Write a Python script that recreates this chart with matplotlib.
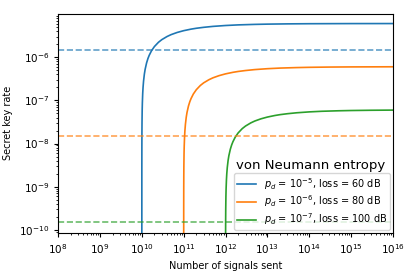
import matplotlib.pyplot as plt

# numero de senales enviadas, relativo al inicio de cada curva
ratios = [1.0, 1.001, 1.003, 1.006, 1.01, 1.02, 1.03, 1.05, 1.07, 1.1, 1.15, 1.2,
          1.3, 1.4, 1.5, 1.7, 2, 2.5, 3, 4, 5, 7, 10, 15, 20, 30, 50, 100, 200,
          500, 1000, 3000, 1e4, 1e5, 1e6]
inicios = [1e10, 1e11, 1e12]

tasa_azul = [1e-13, 3.0e-9, 9.0e-9, 1.8e-8, 2.98e-8, 5.94e-8, 8.8e-8, 1.45e-7,
             2.0e-7, 2.79e-7, 4.05e-7, 5.23e-7, 7.37e-7, 9.29e-7, 1.10e-6, 1.40e-6,
             1.76e-6, 2.21e-6, 2.54e-6, 3.0e-6, 3.32e-6, 3.73e-6, 4.10e-6, 4.45e-6,
             4.66e-6, 4.90e-6, 5.15e-6, 5.40e-6, 5.58e-6, 5.73e-6, 5.81e-6, 5.89e-6,
             5.94e-6, 5.98e-6, 5.99e-6]
tasa_naranja = [1e-14, 3.0e-10, 9.0e-10, 1.8e-9, 2.98e-9, 5.94e-9, 8.8e-9, 1.45e-8,
                2.0e-8, 2.79e-8, 4.05e-8, 5.23e-8, 7.37e-8, 9.29e-8, 1.10e-7, 1.40e-7,
                1.76e-7, 2.21e-7, 2.54e-7, 3.0e-7, 3.32e-7, 3.73e-7, 4.10e-7, 4.45e-7,
                4.66e-7, 4.90e-7, 5.15e-7, 5.40e-7, 5.58e-7, 5.73e-7, 5.81e-7, 5.89e-7,
                5.94e-7, 5.98e-7, 5.99e-7]
tasa_verde = [1e-15, 3.0e-11, 9.0e-11, 1.8e-10, 2.98e-10, 5.94e-10, 8.8e-10, 1.45e-9,
              2.0e-9, 2.79e-9, 4.05e-9, 5.23e-9, 7.37e-9, 9.29e-9, 1.10e-8, 1.40e-8,
              1.76e-8, 2.21e-8, 2.54e-8, 3.0e-8, 3.32e-8, 3.73e-8, 4.10e-8, 4.45e-8,
              4.66e-8, 4.90e-8, 5.15e-8, 5.40e-8, 5.58e-8, 5.73e-8, 5.81e-8, 5.89e-8,
              5.94e-8, 5.98e-8, 5.99e-8]

# lineas de referencia (discontinuas)
referencias = [1.5e-6, 1.5e-8, 1.5e-10]

etiquetas = [r'$p_d$ = $10^{-5}$, loss = 60 dB',
             r'$p_d$ = $10^{-6}$, loss = 80 dB',
             r'$p_d$ = $10^{-7}$, loss = 100 dB']
colores = ['#1f77b4', '#ff7f0e', '#2ca02c']

fig = plt.figure(figsize=(4.15, 2.77), dpi=100)
ax = fig.add_axes([0.14, 0.159, 0.807, 0.792])

for inicio, tasa, etiqueta, color in zip(inicios,
                                         [tasa_azul, tasa_naranja, tasa_verde],
                                         etiquetas, colores):
    n = [inicio * r for r in ratios]
    ax.plot(n, tasa, color=color, lw=1.2, label=etiqueta)

for ref, color in zip(referencias, colores):
    ax.axhline(ref, color=color, ls='--', lw=1.2, alpha=0.7)

ax.set_xscale('log')
ax.set_yscale('log')
ax.set_xlim(1e8, 1e16)
ax.set_ylim(8.5e-11, 1.02e-5)
ax.set_xticks([10.0**k for k in range(8, 17)])
ax.set_yticks([10.0**k for k in range(-10, -5)])
ax.tick_params(labelsize=7.5, length=3)
ax.tick_params(which='minor', length=1.5)
ax.set_xlabel('Number of signals sent', fontsize=7)
ax.set_ylabel('Secret key rate', fontsize=7)

leg = ax.legend(loc='lower right', fontsize=7, borderaxespad=0.3,
                borderpad=0.3, labelspacing=0.2)
ax.text(0.532, 0.29, 'von Neumann entropy', transform=ax.transAxes,
        fontsize=9.5, va='baseline', ha='left')

fig.savefig('out.png', dpi=100)
